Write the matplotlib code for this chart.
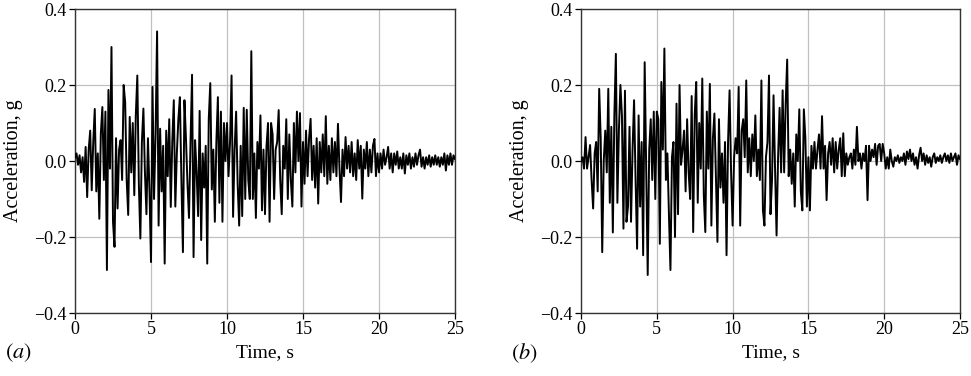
import numpy as np
import matplotlib
matplotlib.use("Agg")
import matplotlib.pyplot as plt

DT = 0.1  # sampling step of the digitised records, s

# Panel (a) acceleration record, g (t = 0 ... 25 s, step 0.1 s)
acc_a = [
    0.01, 0.02, -0.01, 0.015, -0.03, 0.01, -0.055, 0.037, -0.095, 0.03,
    0.08, -0.077, 0.05, 0.137, -0.08, 0.02, -0.152, 0.072, 0.142, -0.05,
    0.13, -0.287, 0.187, -0.02, 0.30, -0.16, -0.226, 0.06, -0.125, 0.03,
    0.055, -0.05, 0.2, 0.155, -0.05, -0.142, 0.116, -0.03, 0.1, -0.09,
    0.12, 0.225, -0.06, -0.204, 0.05, 0.138, -0.03, -0.14, 0.06, -0.08,
    -0.266, 0.195, -0.1, 0.07, 0.341, -0.17, 0.085, -0.08, 0.04, -0.27,
    0.08, -0.04, 0.11, -0.121, 0.05, 0.16, -0.12, 0.02, 0.11, 0.168,
    -0.05, -0.24, 0.16, 0.06, -0.06, -0.15, 0.05, 0.227, -0.253, 0.055,
    -0.03, -0.145, 0.132, -0.208, 0.02, -0.07, 0.04, -0.27, 0.111, 0.205,
    -0.075, 0.03, -0.16, 0.05, 0.168, -0.11, 0.13, -0.16, 0.1, 0.0,
    0.1, -0.04, 0.05, 0.225, -0.147, 0.03, 0.13, -0.06, -0.17, 0.04,
    -0.145, 0.14, -0.1, 0.135, -0.05, -0.1, 0.289, -0.1, 0.02, -0.15,
    0.05, -0.02, 0.12, -0.13, 0.03, -0.14, 0.04, 0.1, -0.16, 0.1,
    0.07, -0.1, 0.03, 0.05, 0.134, -0.05, -0.14, 0.04, -0.02, 0.11,
    -0.1, 0.07, -0.05, -0.12, 0.1, -0.03, 0.13, 0.0, 0.126, -0.12,
    0.05, -0.06, 0.08, -0.04, 0.06, 0.111, -0.05, 0.04, -0.07, 0.06,
    -0.112, 0.05, -0.03, 0.07, -0.04, 0.118, -0.06, 0.04, -0.05, 0.06,
    -0.03, 0.05, -0.04, 0.098, -0.02, -0.108, 0.03, -0.04, 0.063, -0.02,
    0.04, -0.03, 0.05, -0.04, 0.02, -0.05, 0.055, -0.02, 0.04, -0.099,
    0.03, -0.02, 0.05, -0.04, 0.03, -0.03, 0.04, 0.058, -0.04, 0.02,
    -0.03, 0.02, -0.02, 0.03, -0.01, 0.01, 0.037, -0.02, 0.02, -0.03,
    0.02, -0.01, 0.025, -0.02, 0.01, -0.02, 0.02, -0.033, 0.015, -0.01,
    0.02, -0.02, 0.01, -0.015, 0.02, -0.01, 0.015, 0.03, -0.015, 0.01,
    -0.02, 0.01, -0.01, 0.015, -0.015, 0.01, -0.01, 0.015, -0.01, 0.01,
    -0.015, 0.01, -0.01, 0.02, -0.025, 0.015, -0.01, 0.02, -0.01, 0.015,
    0.005,
]

# Panel (b) acceleration record, g (t = 0 ... 25 s, step 0.1 s)
acc_b = [
    0.0, 0.01, -0.02, 0.063, -0.02, 0.01, 0.042, -0.05, -0.125, 0.02,
    0.05, -0.08, 0.19, 0.06, -0.24, 0.0, 0.08, -0.03, 0.19, -0.11,
    0.09, -0.188, 0.12, 0.282, -0.11, 0.08, 0.2, 0.12, -0.178, 0.185,
    -0.16, -0.12, 0.09, -0.16, 0.03, 0.16, -0.05, -0.231, 0.12, -0.12,
    0.05, -0.248, 0.26, -0.02, -0.3, 0.03, 0.11, -0.05, 0.13, -0.1,
    0.13, 0.11, -0.218, 0.208, 0.03, 0.296, -0.05, 0.02, -0.14, -0.287,
    0.01, 0.05, -0.2, 0.151, -0.14, 0.2, -0.01, 0.03, 0.08, -0.08,
    0.11, -0.03, -0.1, 0.171, -0.187, 0.12, 0.208, -0.11, 0.1, -0.02,
    0.217, -0.09, -0.187, 0.13, -0.02, 0.203, -0.17, 0.06, 0.125, -0.05,
    -0.213, 0.11, -0.07, 0.02, -0.11, 0.05, -0.248, 0.05, 0.186, -0.03,
    -0.17, 0.01, 0.06, 0.02, 0.195, -0.17, 0.08, 0.11, 0.01, 0.212,
    -0.03, 0.06, -0.04, 0.07, 0.0, 0.12, -0.04, 0.03, -0.05, 0.212,
    -0.13, -0.17, 0.01, 0.05, 0.225, -0.14, -0.05, 0.173, -0.02, -0.196,
    0.01, 0.14, -0.03, 0.186, -0.03, 0.15, 0.267, -0.04, 0.03, -0.06,
    0.02, -0.12, 0.07, 0.0, 0.136, -0.08, -0.13, 0.136, 0.06, -0.12,
    0.01, -0.13, 0.04, -0.02, 0.05, -0.02, 0.03, 0.07, -0.02, 0.118,
    -0.02, 0.04, -0.103, 0.02, 0.05, -0.01, 0.06, -0.03, 0.05, -0.02,
    0.03, 0.06, -0.04, 0.073, -0.04, 0.02, -0.01, 0.01, 0.02, -0.02,
    0.03, -0.01, 0.09, 0.0, 0.02, -0.02, 0.02, 0.0, 0.04, -0.103,
    0.04, 0.0, 0.03, 0.01, 0.045, -0.01, 0.04, 0.045, 0.0, 0.045,
    0.02, -0.02, 0.01, -0.02, 0.03, 0.0, -0.015, 0.01, 0.0, 0.015,
    -0.005, 0.01, 0.0, 0.02, -0.01, 0.025, 0.005, 0.03, 0.0, 0.02,
    -0.01, 0.01, -0.02, 0.015, 0.035, 0.0, 0.02, -0.01, 0.015, -0.005,
    0.01, -0.015, 0.01, 0.02, -0.005, 0.01, 0.0, 0.015, -0.005, 0.01,
    0.02, 0.0, 0.015, -0.005, 0.02, 0.0, 0.01, 0.02, -0.01, 0.015,
    0.005,
]

panel_labels = [r"$(a)$", r"$(b)$"]
x_ticks = [0, 5, 10, 15, 20, 25]
y_ticks = [-0.4, -0.2, 0.0, 0.2, 0.4]
x_label = "Time, s"
y_label = "Acceleration, g"

plt.rcParams["font.family"] = ["Liberation Serif", "DejaVu Serif"]
plt.rcParams["mathtext.fontset"] = "stix"
plt.rcParams["axes.unicode_minus"] = True

fig = plt.figure(figsize=(9.71, 3.76), dpi=100)
positions = [
    [75 / 971, 1 - 313 / 376, 380 / 971, 304 / 376],
    [581 / 971, 1 - 313 / 376, 379 / 971, 304 / 376],
]

for pos, acc, lab in zip(positions, [acc_a, acc_b], panel_labels):
    ax = fig.add_axes(pos)
    t = np.round(np.arange(len(acc)) * DT, 2)
    ax.plot(t, acc, color="black", linewidth=1.4, zorder=3)
    ax.set_xlim(0, 25)
    ax.set_ylim(-0.4, 0.4)
    ax.set_xticks(x_ticks)
    ax.set_yticks(y_ticks)
    ax.set_yticklabels([f"{v:.1f}".replace("-", "\u2212") for v in y_ticks])
    ax.grid(True, color="#c0c0c0", linewidth=0.9, zorder=0)
    ax.tick_params(labelsize=13, length=4, width=0.9, color="black", pad=2)
    for s in ax.spines.values():
        s.set_linewidth(1.0)
        s.set_color("#333333")
    ax.set_xlabel(x_label, fontsize=14, labelpad=4)
    ax.set_ylabel(y_label, fontsize=14.5, labelpad=8)
    x_fig = pos[0] - 70 / 971
    fig.text(x_fig, 1 - 353 / 376, lab, fontsize=16,
             ha="left", va="center")

fig.savefig("out.png", dpi=100)
